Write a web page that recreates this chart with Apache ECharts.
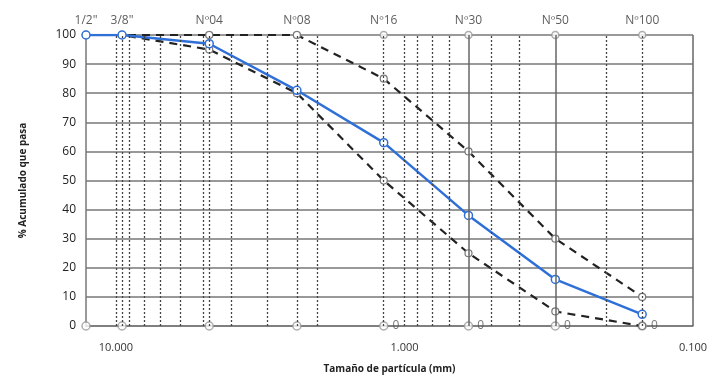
<!DOCTYPE html>
<html>
<head>
<meta charset="utf-8">
<script src="https://cdn.jsdelivr.net/npm/echarts@6/dist/echarts.min.js"></script>
<style>
  html, body { margin: 0; padding: 0; background: #fff; }
  #chart { width: 725px; height: 383px; }
</style>
</head>
<body>
<div id="chart"></div>
<script>
// tamices y aberturas (mm)
var tamices = ['1/2"', '3/8"', 'Nº04', 'Nº08', 'Nº16', 'Nº30', 'Nº50', 'Nº100'];
var aberturas = [12.7, 9.525, 4.75, 2.36, 1.18, 0.6, 0.3, 0.15];

// % acumulado que pasa
var muestra = [100, 100, 97, 81, 63, 38, 16, 4];
var limiteSup = [100, 100, 100, 100, 85, 60, 30, 10];
var limiteInf = [100, 100, 95, 80, 50, 25, 5, 0];

// etiquetas "0" en la base
var etiquetaBase = ['', '', '', '', '0', '0', '0', '0'];

// lineas verticales de la grilla logaritmica
var grillaLog = [10, 9, 8, 7, 6, 5, 4, 3, 2, 1, 0.9, 0.8, 0.7, 0.5, 0.4, 0.2];
var grillaSolida = [0.6, 0.3, 0.1];
var ejeXTicks = [10, 1, 0.1];

function pares(ys) {
    return aberturas.map(function (d, i) { return [d, ys[i]]; });
}

var myChart = echarts.init(document.getElementById('chart'));

var lineasV = [];
grillaLog.concat(aberturas.slice(1, 5)).concat([0.15]).forEach(function (v) {
    lineasV.push({ xAxis: v, lineStyle: { type: [2, 2], color: '#444', width: 1.3 } });
});
grillaSolida.forEach(function (v) {
    lineasV.push({ xAxis: v, lineStyle: { type: 'solid', color: '#666', width: 1.5 } });
});

var option = {
    animation: false,
    textStyle: { fontFamily: 'Open Sans' },
    grid: { left: 86, right: 32, top: 35, bottom: 57 },
    xAxis: {
        type: 'log',
        logBase: 10,
        min: 0.1,
        max: 12.7,
        inverse: true,
        name: 'Tamaño de partícula (mm)',
        nameLocation: 'middle',
        nameGap: 38,
        nameTextStyle: { fontWeight: 'bold', fontSize: 10, color: '#222' },
        axisLine: { show: true, lineStyle: { color: '#777', width: 1.5 } },
        axisTick: { show: false },
        splitLine: { show: false },
        axisLabel: {
            color: '#333',
            fontSize: 11,
            margin: 16,
            showMaxLabel: false,
            formatter: function (v) {
                for (var i = 0; i < ejeXTicks.length; i++) {
                    if (Math.abs(v - ejeXTicks[i]) < 1e-9) return ejeXTicks[i].toFixed(3);
                }
                return '';
            }
        }
    },
    yAxis: {
        type: 'value',
        min: 0,
        max: 100,
        interval: 10,
        name: '% Acumulado que pasa',
        nameLocation: 'middle',
        nameGap: 58,
        nameTextStyle: { fontWeight: 'bold', fontSize: 10, color: '#222' },
        axisLine: { show: true, lineStyle: { color: '#777', width: 1.5 } },
        axisTick: { show: false },
        axisLabel: { color: '#222', fontSize: 12, margin: 10 },
        splitLine: { lineStyle: { color: '#777', width: 1.5 } }
    },
    series: [
        {
            name: 'Tamiz base',
            type: 'scatter',
            data: pares(aberturas.map(function () { return 0; })),
            symbol: 'circle',
            symbolSize: 8,
            itemStyle: { color: '#fff', borderColor: '#999', borderWidth: 1.5 },
            label: {
                show: true,
                position: 'right',
                distance: 4,
                color: '#555',
                fontSize: 12,
                formatter: function (p) { return etiquetaBase[p.dataIndex]; }
            },
            markLine: {
                silent: true,
                symbol: 'none',
                label: { show: false },
                data: lineasV
            },
            z: 1
        },
        {
            name: 'Tamiz cabecera',
            type: 'scatter',
            data: pares(aberturas.map(function () { return 100; })),
            symbol: 'circle',
            symbolSize: 7,
            itemStyle: { color: '#fff', borderColor: '#999', borderWidth: 1.5 },
            label: {
                show: true,
                position: 'top',
                distance: 4,
                color: '#333',
                fontSize: 12,
                formatter: function (p) { return tamices[p.dataIndex]; }
            },
            z: 2
        },
        {
            name: 'Límite superior',
            type: 'line',
            data: pares(limiteSup),
            symbol: 'circle',
            symbolSize: 7,
            itemStyle: { color: '#fff', borderColor: '#777', borderWidth: 1.2 },
            lineStyle: { color: '#222', width: 2.2, type: [8, 6] },
            z: 3
        },
        {
            name: 'Límite inferior',
            type: 'line',
            data: pares(limiteInf),
            symbol: 'circle',
            symbolSize: 7,
            itemStyle: { color: '#fff', borderColor: '#777', borderWidth: 1.2 },
            lineStyle: { color: '#222', width: 2.2, type: [8, 6] },
            z: 3
        },
        {
            name: 'Muestra',
            type: 'line',
            data: pares(muestra),
            symbol: 'circle',
            symbolSize: 8,
            itemStyle: { color: '#fff', borderColor: '#2f6fd8', borderWidth: 1.5 },
            lineStyle: { color: '#2f6fd8', width: 2.5 },
            z: 4
        }
    ]
};
myChart.setOption(option);
</script>
</body>
</html>
